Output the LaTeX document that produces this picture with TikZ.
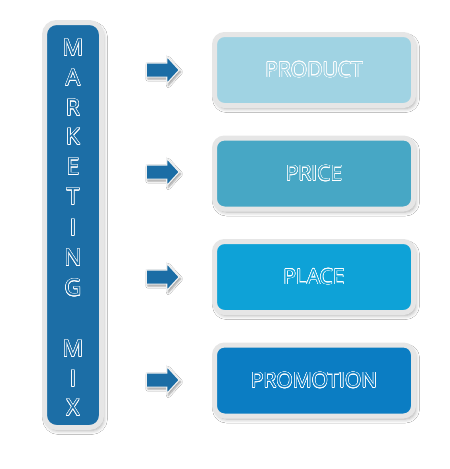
\documentclass[tikz,border=0pt]{standalone}
\usepackage{fontspec}
\setmainfont{Open Sans}
\usepackage{contour}
\contourlength{0.5pt}
\usetikzlibrary{shapes.arrows,shadows.blur}
\definecolor{barblue}{HTML}{1C6EA6}
\definecolor{arrowblue}{HTML}{1B6DA5}
\definecolor{cproduct}{HTML}{A0D3E3}
\definecolor{cprice}{HTML}{47A7C5}
\definecolor{cplace}{HTML}{0EA2D7}
\definecolor{cpromo}{HTML}{0B7DC3}
\definecolor{rimgray}{HTML}{E6E6E6}
\newcommand{\outl}[2]{\contour{white}{\textcolor{#1}{#2}}}
\tikzset{
  panel/.style={draw=rimgray, line width=5pt, rounded corners=10pt,
    blur shadow={shadow xshift=2pt, shadow yshift=-3pt, shadow blur radius=4pt, shadow opacity=35}},
  itembox/.style={panel, minimum width=199pt, minimum height=71pt, inner sep=0pt},
  itemtext/.style={font=\fontsize{21}{25}\selectfont},
  vletter/.style={font=\fontsize{23}{27}\selectfont, inner sep=0pt},
  blockarrow/.style={single arrow, fill=arrowblue, draw=rimgray!60, line width=1.2pt,
    minimum height=33pt, inner xsep=0pt, inner ysep=6.5pt,
    single arrow head extend=6.5pt, single arrow tip angle=95,
    blur shadow={shadow xshift=1.5pt, shadow yshift=-2pt, shadow blur radius=2pt, shadow opacity=40}}
}
\begin{document}
\begin{tikzpicture}[x=1pt,y=-1pt]
\useasboundingbox[fill=white] (0,0) rectangle (450,469);
% left bar
\node[panel, rounded corners=12pt, fill=barblue, minimum width=57pt, minimum height=405pt, inner sep=0pt] (bar) at (73,225) {};
\foreach \l/\yy [count=\i] in {M/48,A/78,R/108,K/137,E/167,T/197,I/228,N/258,G/288,M/349,I/379,X/408}{
  \node[vletter] (let\i) at (73,\yy) {\outl{barblue}{\l}};
}
% boxes
\node[itembox, fill=cproduct] (product) at (314,70) {};
\node[itemtext] (tproduct) at (product.center) {\outl{cproduct}{PRODUCT}};
\node[itembox, fill=cprice] (price) at (314,173.5) {};
\node[itemtext] (tprice) at (price.center) {\outl{cprice}{PRICE}};
\node[itembox, fill=cplace] (place) at (314,277) {};
\node[itemtext] (tplace) at (place.center) {\outl{cplace}{PLACE}};
\node[itembox, fill=cpromo] (promo) at (314,380.5) {};
\node[itemtext] (tpromo) at (promo.center) {\outl{cpromo}{PROMOTION}};
% arrows
\node[blockarrow] (a1) at (159.5,70) {};
\node[blockarrow] (a2) at (159.5,172) {};
\node[blockarrow] (a3) at (159.5,277) {};
\node[blockarrow] (a4) at (159.5,380) {};
\end{tikzpicture}
\end{document}
